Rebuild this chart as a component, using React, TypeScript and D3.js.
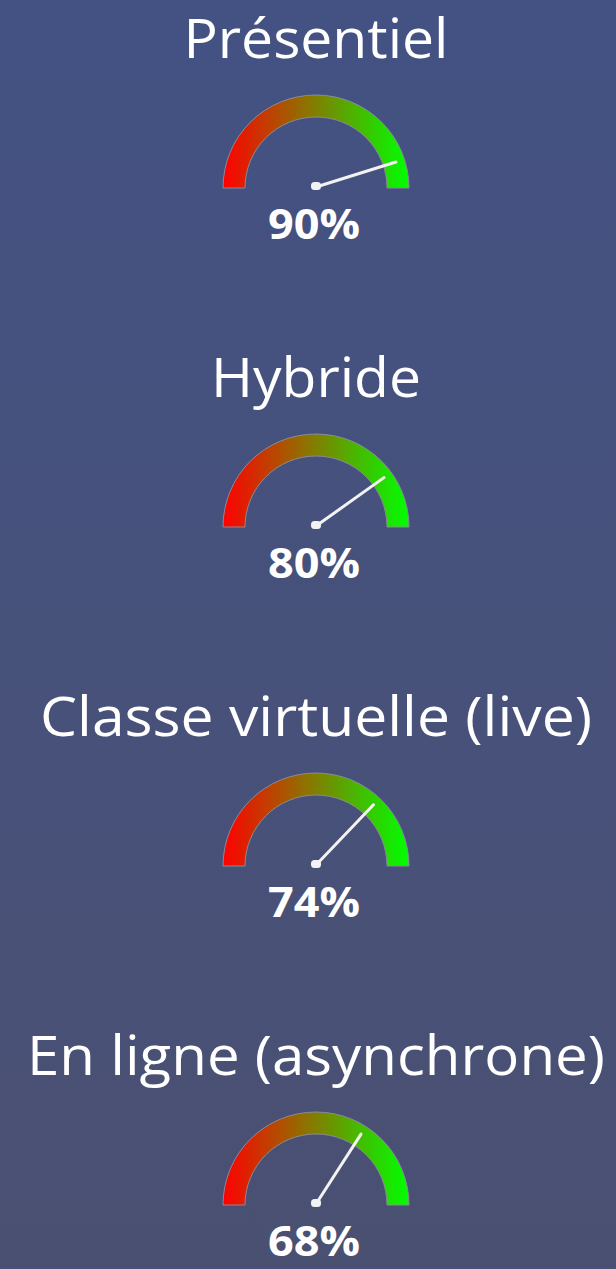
import { useEffect, useRef } from "react"
import * as d3 from "d3"

const categories = ["Présentiel", "Hybride", "Classe virtuelle (live)", "En ligne (asynchrone)"]
const values = [90, 80, 74, 68]
const valueLabels = ["90%", "80%", "74%", "68%"]

const W = 616
const H = 1269

const App = () => {
  const svgRef = useRef<SVGSVGElement>(null)

  useEffect(() => {
    if (!svgRef.current) return
    const svg = d3.select(svgRef.current)
    svg.selectAll("*").remove()

    const defs = svg.append("defs")
    const bg = defs
      .append("linearGradient")
      .attr("id", "bg")
      .attr("x1", 0)
      .attr("y1", 0)
      .attr("x2", 0)
      .attr("y2", 1)
    bg.append("stop").attr("offset", "0%").attr("stop-color", "#435283")
    bg.append("stop").attr("offset", "100%").attr("stop-color", "#4a5072")

    svg.append("rect").attr("width", W).attr("height", H).attr("fill", "url(#bg)")

    const cx = 316
    const outerR = 93
    const innerR = 71
    const needleLen = 84
    const step = 339

    // value -> angle (d3.arc convention, 0 at 12 o'clock)
    const angle = d3.scaleLinear().domain([0, 100]).range([-Math.PI / 2, Math.PI / 2])

    const arc = d3
      .arc<any>()
      .innerRadius(innerR)
      .outerRadius(outerR)
      .startAngle(angle(0))
      .endAngle(angle(100))

    // red -> green gradient across the gauge (local coords)
    const grad = defs
      .append("linearGradient")
      .attr("id", "gauge")
      .attr("gradientUnits", "userSpaceOnUse")
      .attr("x1", -outerR)
      .attr("y1", 0)
      .attr("x2", outerR)
      .attr("y2", 0)
    grad.append("stop").attr("offset", "0%").attr("stop-color", "#ff0000")
    grad.append("stop").attr("offset", "50%").attr("stop-color", "#808000")
    grad.append("stop").attr("offset", "100%").attr("stop-color", "#00ff00")

    // title widths
    const titleWidths = [265, 210, 552, 578]

    categories.forEach((name, i) => {
      const cy = 188 + i * step
      const g = svg.append("g")

      // title
      g.append("text")
        .attr("x", cx)
        .attr("y", 58 + i * step)
        .attr("text-anchor", "middle")
        .attr("font-family", "'Open Sans', sans-serif")
        .attr("font-size", 54)
        .attr("fill", "#ffffff")
        .attr("textLength", titleWidths[i])
        .attr("lengthAdjust", "spacingAndGlyphs")
        .text(name)

      // gauge arc
      g.append("path")
        .attr("transform", `translate(${cx},${cy})`)
        .attr("d", arc(null as any))
        .attr("fill", "url(#gauge)")
        .attr("stroke", "#8a8a96")
        .attr("stroke-width", 1)

      // needle
      const a = angle(values[i])
      g.append("line")
        .attr("x1", cx)
        .attr("y1", cy - 1)
        .attr("x2", cx + needleLen * Math.sin(a))
        .attr("y2", cy - needleLen * Math.cos(a))
        .attr("stroke", "#f2f2f2")
        .attr("stroke-width", 3)
        .attr("stroke-linecap", "round")

      g.append("rect")
        .attr("x", cx - 5)
        .attr("y", cy - 6)
        .attr("width", 10)
        .attr("height", 8)
        .attr("rx", 3.5)
        .attr("fill", "#f2f2f2")

      // value label
      g.append("text")
        .attr("x", cx - 2)
        .attr("y", 239 + i * step)
        .attr("text-anchor", "middle")
        .attr("font-family", "'Open Sans', sans-serif")
        .attr("font-weight", "bold")
        .attr("font-size", 42)
        .attr("fill", "#ffffff")
        .attr("textLength", 92)
        .attr("lengthAdjust", "spacingAndGlyphs")
        .text(valueLabels[i])
    })
  }, [])

  return (
    <svg
      ref={svgRef}
      width={W}
      height={H}
      style={{ position: "absolute", left: 0, top: 0, display: "block" }}
    ></svg>
  )
}

export default App
